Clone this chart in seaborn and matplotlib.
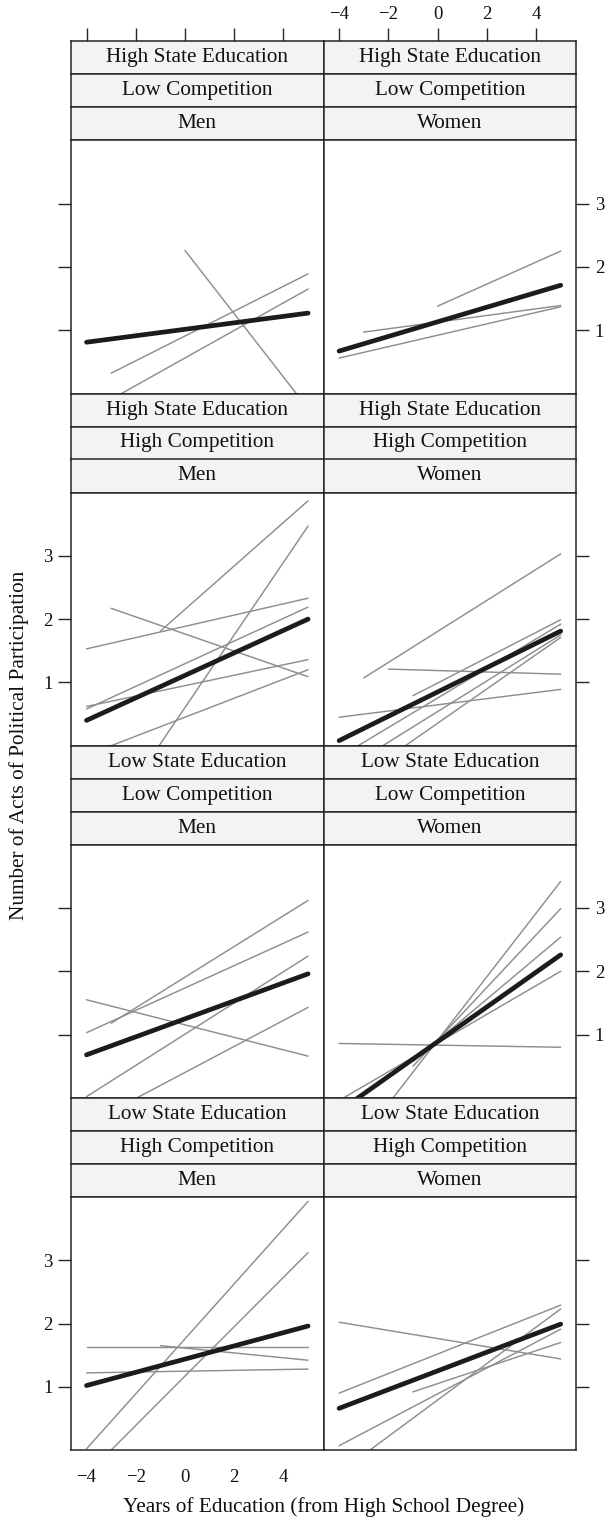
import matplotlib
matplotlib.use("Agg")
import matplotlib.pyplot as plt
import pandas as pd
import seaborn as sns

# ---- panel conditions -------------------------------------------------------
state_levels = ["High State Education", "High State Education",
                "Low State Education", "Low State Education"]
competition_levels = ["Low Competition", "High Competition",
                      "Low Competition", "High Competition"]
genders = ["Men", "Women"]

x_ticks = [-4, -2, 0, 2, 4]
y_ticks = [1, 2, 3]

# ---- pooled fit (thick line): predicted acts at educ = -4 and educ = 5 -------
pooled_x = [-4, 5]
pooled_start = [[0.81, 0.67], [0.40, 0.08], [0.68, -0.21], [1.02, 0.66]]
pooled_end = [[1.27, 1.71], [2.00, 1.81], [1.96, 2.26], [1.96, 1.99]]

# ---- state-level fits (thin lines): (educ_from, acts_from, educ_to, acts_to) -
hse_lc_men = [(-3, 0.32, 5, 1.89), (-4, -0.31, 5, 1.65), (0, 2.26, 5, -0.24)]
hse_lc_women = [(0, 1.38, 5, 2.25), (-3, 0.97, 5, 1.39), (-4, 0.56, 5, 1.37)]

hse_hc_men = [(-1, 1.81, 5, 3.87), (-4, -1.69, 5, 3.47), (-4, 1.53, 5, 2.33),
              (-3, 2.17, 5, 1.09), (-4, 0.58, 5, 2.19), (-4, 0.62, 5, 1.36),
              (-4, -0.15, 5, 1.20)]
hse_hc_women = [(-3, 1.07, 5, 3.03), (-2, 1.21, 5, 1.13), (-4, 0.45, 5, 0.89),
                (-1, 0.79, 5, 1.99), (-4, -0.18, 5, 1.92), (-4, -0.43, 5, 1.75),
                (-4, -0.73, 5, 1.71)]

lse_lc_men = [(-3, 1.18, 5, 3.12), (-4, 1.03, 5, 2.62), (-4, 1.55, 5, 0.66),
              (-4, 0.02, 5, 2.24), (-4, -0.42, 5, 1.43)]
lse_lc_women = [(-4, 0.86, 5, 0.80), (-4, -1.10, 5, 3.42), (-1, 0.50, 5, 2.99),
                (-1, 0.58, 5, 2.54), (-4, -0.04, 5, 2.00)]

lse_hc_men = [(-4, 1.63, 5, 1.63), (-1, 1.65, 5, 1.42), (-4, 1.22, 5, 1.28),
              (-4, 0.02, 5, 3.93), (-4, -0.39, 5, 3.12)]
lse_hc_women = [(-4, 2.02, 5, 1.44), (-4, 0.90, 5, 2.29), (-1, 0.92, 5, 1.70),
                (-4, 0.07, 5, 1.91), (-4, -0.36, 5, 2.23)]

state_fits = [[hse_lc_men, hse_lc_women],
              [hse_hc_men, hse_hc_women],
              [lse_lc_men, lse_lc_women],
              [lse_hc_men, lse_hc_women]]

# ---- long-format tables for seaborn -----------------------------------------
thin_rows, thick_rows = [], []
for r in range(4):
    for c in range(2):
        for k, (x0, y0, x1, y1) in enumerate(state_fits[r][c]):
            thin_rows.append(dict(row=r, col=c, line=k, educ=x0, acts=y0))
            thin_rows.append(dict(row=r, col=c, line=k, educ=x1, acts=y1))
        thick_rows.append(dict(row=r, col=c, educ=pooled_x[0], acts=pooled_start[r][c]))
        thick_rows.append(dict(row=r, col=c, educ=pooled_x[1], acts=pooled_end[r][c]))
thin = pd.DataFrame(thin_rows)
thick = pd.DataFrame(thick_rows)

# ---- style ------------------------------------------------------------------
sns.set_theme(style="white")
plt.rcParams["font.family"] = ["Liberation Serif", "DejaVu Serif"]
plt.rcParams["axes.unicode_minus"] = True

W, H = 608, 1522
fig = plt.figure(figsize=(W / 100, H / 100), dpi=100)
fig.patch.set_facecolor("white")

edge = "#262626"
strip_bg = "#f3f3f3"
thin_col = "#8e8e8e"
thick_col = "#1c1c1c"
xlim = (-4.63, 5.63)
ylim = (0.0, 4.0)

left0, col_w = 71.0, 252.6
top0, strip_h, plot_h = 41.3, 33.0, 253.2
row_h = 3 * strip_h + plot_h

tick_len = 9.4
tick_w = 1.0
fs = 15.3        # strip and axis titles
tfs = 13.5       # tick labels
text_col = "#111111"


def add_px_axes(x, y, w, h):
    return fig.add_axes([x / W, 1 - (y + h) / H, w / W, h / H])


def style_spines(ax):
    for s in ax.spines.values():
        s.set_color(edge)
        s.set_linewidth(1.1)
        s.set_visible(True)


for r in range(4):
    row_top = top0 + r * row_h
    for c in range(2):
        x_px = left0 + c * col_w
        labels = [state_levels[r], competition_levels[r], genders[c]]
        # strips
        for i, lab in enumerate(labels):
            sax = add_px_axes(x_px, row_top + i * strip_h, col_w, strip_h)
            sax.set_facecolor(strip_bg)
            style_spines(sax)
            sax.set_xlim(xlim)
            sax.set_yticks([])
            sax.text(0.5, 0.5, lab, transform=sax.transAxes, ha="center",
                     va="center", fontsize=fs, color=text_col)
            if r == 0 and i == 0:
                sax.xaxis.tick_top()
                sax.set_xticks(x_ticks)
                sax.tick_params(axis="x", direction="out", length=tick_len,
                                width=tick_w, colors=edge, labelsize=tfs,
                                pad=4, labelcolor=text_col,
                                labeltop=(c == 1))
                if c == 0:
                    sax.set_xticklabels([])
            else:
                sax.set_xticks([])

        # panel
        ax = add_px_axes(x_px, row_top + 3 * strip_h, col_w, plot_h)
        ax.set_facecolor("white")
        style_spines(ax)
        sub = thin[(thin.row == r) & (thin.col == c)]
        sns.lineplot(data=sub, x="educ", y="acts", units="line",
                     estimator=None, color=thin_col, linewidth=1.05,
                     legend=False, ax=ax, sort=False)
        sub_t = thick[(thick.row == r) & (thick.col == c)]
        sns.lineplot(data=sub_t, x="educ", y="acts", estimator=None,
                     color=thick_col, linewidth=3.4, legend=False, ax=ax,
                     solid_capstyle="round", sort=False)
        ax.set_xlim(xlim)
        ax.set_ylim(ylim)
        ax.set_xlabel("")
        ax.set_ylabel("")

        # x ticks only on the bottom row
        if r == 3:
            ax.set_xticks(x_ticks)
            ax.tick_params(axis="x", direction="out", length=tick_len,
                           width=tick_w, colors=edge, labelsize=tfs, pad=4,
                           labelcolor=text_col, labelbottom=(c == 0))
            if c == 1:
                ax.set_xticklabels([])
        else:
            ax.set_xticks([])

        # y ticks on the outer side, labels alternating
        ax.set_yticks(y_ticks)
        if c == 0:
            ax.yaxis.tick_left()
            ax.tick_params(axis="y", direction="out", length=tick_len,
                           width=tick_w, colors=edge, labelsize=tfs, pad=4,
                           labelcolor=text_col,
                           labelleft=(r % 2 == 1))
            if r % 2 == 0:
                ax.set_yticklabels([])
        else:
            ax.yaxis.tick_right()
            ax.tick_params(axis="y", direction="out", length=tick_len,
                           width=tick_w, colors=edge, labelsize=tfs, pad=4,
                           labelcolor=text_col,
                           labelright=(r % 2 == 0), labelleft=False)
            if r % 2 == 1:
                ax.set_yticklabels([])

fig.text(19 / W, 1 - 745.6 / H, "Number of Acts of Political Participation",
         rotation=90, ha="center", va="center", fontsize=fs, color=text_col)
fig.text(323.5 / W, 1 - 1507 / H, "Years of Education (from High School Degree)",
         ha="center", va="center", fontsize=fs, color=text_col)

fig.savefig("out.png", dpi=100, facecolor="white")
